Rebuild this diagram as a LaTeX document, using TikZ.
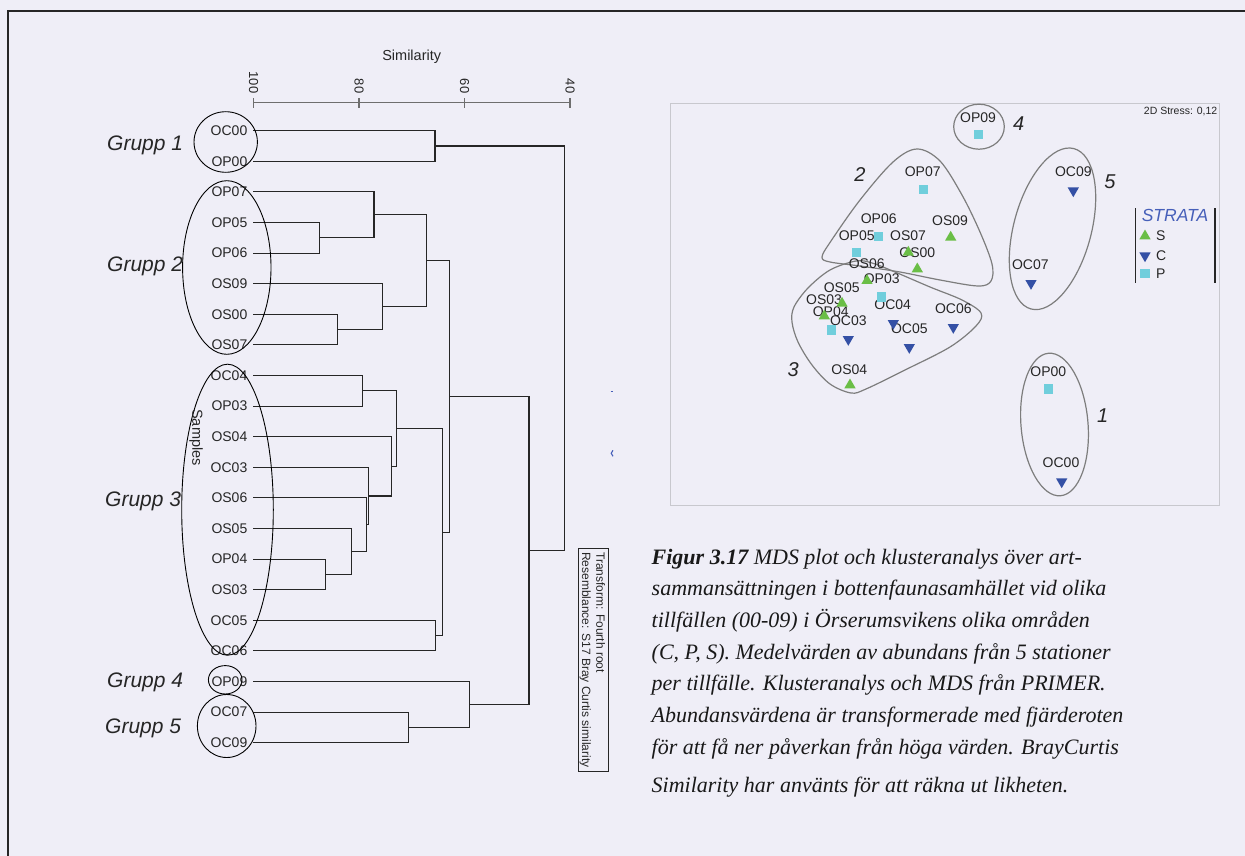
\documentclass[tikz,border=0pt]{standalone}
\usepackage{fontspec}
\setmainfont{Liberation Sans}
\newfontfamily\capfont{Liberation Serif}
\usetikzlibrary{shapes.geometric}
\definecolor{bgc}{RGB}{239,238,247}
\definecolor{sgreen}{RGB}{106,190,70}
\definecolor{cblue}{RGB}{52,80,165}
\definecolor{pcyan}{RGB}{112,206,220}
\definecolor{stratablue}{RGB}{70,95,185}
\definecolor{framegray}{RGB}{200,200,206}
\definecolor{outlinegray}{RGB}{125,125,125}
\definecolor{axisgray}{RGB}{110,110,110}
\newcommand{\fsz}[1]{\fontsize{#1}{#1}\selectfont}
\newcommand{\dendjoin}[5]{\draw[dend] (#1,#2) -| (#5,#4) -- (#3,#4);}
\begin{document}
\begin{tikzpicture}[x=1pt,y=-1pt,
  leaf/.style={anchor=east, inner sep=0pt, font=\fsz{14}, text=black!85},
  grupp/.style={anchor=base west, inner sep=0pt, font=\fsz{21}\itshape, text=black!85},
  dend/.style={line width=1.1pt, black!85},
  ell/.style={line width=0.9pt, black},
  mds/.style={inner sep=0pt, font=\fsz{14}, text=black!85},
  gnum/.style={inner sep=0pt, font=\fsz{20}\itshape, text=black!85},
  grp/.style={line width=1.2pt, outlinegray},
  sqP/.style={rectangle, fill=pcyan, minimum size=9.5pt, inner sep=0pt},
  triS/.style={regular polygon, regular polygon sides=3, fill=sgreen, minimum size=13pt, inner sep=0pt},
  triC/.style={regular polygon, regular polygon sides=3, shape border rotate=180, fill=cblue, minimum size=13pt, inner sep=0pt},
  capline/.style={anchor=base west, inner sep=0pt, font=\capfont\fsz{22}\itshape, text=black!90},
  vtext/.style={rotate=-90, inner sep=0pt, text=black!85}
]
\useasboundingbox (0,0) rectangle (1245,856);
\fill[bgc] (0,0) rectangle (1245,856);
\draw[line width=2pt, black!85] (8,856) -- (8,11) -- (1245,11);

% ---------------- Dendrogram ----------------
\node[inner sep=0pt, font=\fsz{14.5}, text=black!85] (simlab) at (411.7,56.7) {Similarity};
\draw[line width=1.3pt, axisgray] (253.5,102.3) -- (570,102.3);
\foreach \xx in {253.5,359,464.5,570} \draw[line width=1.3pt, axisgray] (\xx,98.3) -- (\xx,108.3);
\node[vtext, anchor=east, font=\fsz{13}] (t100) at (253.5,93.5) {100};
\node[vtext, anchor=east, font=\fsz{13}] (t80) at (359,93.5) {80};
\node[vtext, anchor=east, font=\fsz{13}] (t60) at (464.5,93.5) {60};
\node[vtext, anchor=east, font=\fsz{13}] (t40) at (570,93.5) {40};

\node[leaf] (lOC00) at (247.5,130.7) {OC00};
\node[leaf] (lOP00) at (247.5,161.3) {OP00};
\node[leaf] (lOP07) at (247.5,191.9) {OP07};
\node[leaf] (lOP05) at (247.5,222.5) {OP05};
\node[leaf] (lOP06) at (247.5,253.1) {OP06};
\node[leaf] (lOS09) at (247.5,283.7) {OS09};
\node[leaf] (lOS00) at (247.5,314.3) {OS00};
\node[leaf] (lOS07) at (247.5,344.9) {OS07};
\node[leaf] (lOC04) at (247.5,375.5) {OC04};
\node[leaf] (lOP03) at (247.5,406.1) {OP03};
\node[leaf] (lOS04) at (247.5,436.7) {OS04};
\node[leaf] (lOC03) at (247.5,467.3) {OC03};
\node[leaf] (lOS06) at (247.5,497.9) {OS06};
\node[leaf] (lOS05) at (247.5,528.5) {OS05};
\node[leaf] (lOP04) at (247.5,559.1) {OP04};
\node[leaf] (lOS03) at (247.5,589.7) {OS03};
\node[leaf] (lOC05) at (247.5,620.3) {OC05};
\node[leaf] (lOC06) at (247.5,650.9) {OC06};
\node[leaf] (lOP09) at (247.5,681.5) {OP09};
\node[leaf] (lOC07) at (247.5,712.1) {OC07};
\node[leaf] (lOC09) at (247.5,742.7) {OC09};

\dendjoin{253}{130.7}{253}{161.3}{435}
\dendjoin{253}{222.5}{253}{253.1}{319.3}
\dendjoin{253}{191.9}{319.3}{237.8}{374}
\dendjoin{253}{314.3}{253}{344.9}{337.7}
\dendjoin{253}{283.7}{337.7}{329.6}{382.3}
\dendjoin{374}{214.85}{382.3}{306.65}{426.3}
\dendjoin{253}{375.5}{253}{406.1}{362.7}
\dendjoin{253}{559.1}{253}{589.7}{325.7}
\dendjoin{253}{528.5}{325.7}{574.4}{351.7}
\dendjoin{253}{497.9}{351.7}{551.45}{366.8}
\dendjoin{253}{467.3}{366.8}{524.68}{368.6}
\dendjoin{253}{436.7}{368.6}{495.99}{391.3}
\dendjoin{362.7}{390.8}{391.3}{466.35}{396.7}
\dendjoin{253}{620.3}{253}{650.9}{435.3}
\dendjoin{396.7}{428.58}{435.3}{635.6}{442.3}
\dendjoin{426.3}{260.75}{442.3}{532.09}{449.3}
\dendjoin{253}{712.1}{253}{742.7}{408.7}
\dendjoin{253}{681.5}{408.7}{727.4}{469.3}
\dendjoin{449.3}{396.42}{469.3}{704.45}{529}
\dendjoin{435}{146}{529}{550.4}{564.3}

\draw[ell] (225.7,142) ellipse [x radius=31.7pt, y radius=30.3pt];
\draw[ell] (226.8,267.5) ellipse [x radius=44.2pt, y radius=86.8pt];
\draw[ell] (227.5,509.7) ellipse [x radius=45.8pt, y radius=145.5pt];
\draw[ell] (225.2,679.8) ellipse [x radius=16.8pt, y radius=14.2pt];
\draw[ell] (226.7,726) ellipse [x radius=29.3pt, y radius=31.5pt];

\node[vtext, font=\fsz{14.5}] (samples) at (196,437.5) {Samples};

\node[grupp] (g1) at (107,151) {Grupp 1};
\node[grupp] (g2) at (107,271) {Grupp 2};
\node[grupp] (g3) at (105,506) {Grupp 3};
\node[grupp] (g4) at (107,687) {Grupp 4};
\node[grupp] (g5) at (105,733) {Grupp 5};

\draw[line width=1.2pt, black!85] (578.3,548.3) rectangle (608.3,771.5);
\node[vtext, anchor=west, font=\fsz{12}] (tr1) at (600.7,552) {Transform: Fourth root};
\node[vtext, anchor=west, font=\fsz{12}] (tr2) at (585.3,552) {Resemblance: S17 Bray Curtis similarity};

% stray marks
\draw[line width=1pt, stratablue] (610.5,391.7) -- (613,391.7);
\draw[line width=1.1pt, stratablue] (613,450.3) .. controls (610.6,451.5) and (610.6,455) .. (613,456.3);

% ---------------- MDS plot ----------------
\draw[line width=1.5pt, framegray] (670.7,103.3) rectangle (1219.3,505.7);
\node[anchor=east, inner sep=0pt, font=\fsz{10.5}, text=black!85] (stress) at (1217.5,111.7) {2D Stress: 0,12};

% group outlines
\draw[grp] (979,126.7) ellipse [x radius=25.3pt, y radius=22.5pt];
\draw[grp, rotate around={75:(1052.5,228.8)}] (1052.5,228.8) ellipse [x radius=83pt, y radius=38.8pt];
\draw[grp, rotate around={94.8:(1054.5,424.5)}] (1054.5,424.5) ellipse [x radius=71.5pt, y radius=33.5pt];
\draw[grp] plot[smooth cycle, tension=0.55] coordinates {(917,149) (940,161) (962,195) (980,232) (992,264) (991,281) (978,286) (940,280) (900,272) (860,266) (830,262) (822,257) (831,241) (860,200) (893,162)};
\draw[grp] plot[smooth cycle, tension=0.55] coordinates {(856,261) (830,270) (808,288) (794,307) (792,322) (798,342) (812,365) (830,384) (851,393) (866,389) (905,370) (950,347) (976,326) (981,313) (962,300) (930,287) (895,272) (872,263)};

\node[gnum] (n4) at (1018.7,123.3) {4};
\node[gnum] (n2) at (860,174.3) {2};
\node[gnum] (n5) at (1110,181.7) {5};
\node[gnum] (n3) at (793.3,369.3) {3};
\node[gnum] (n1) at (1102.7,416) {1};

% point labels
\node[mds] (tOP09) at (978,117.3) {OP09};
\node[mds] (tOP07) at (922.7,171.7) {OP07};
\node[mds] (tOC09) at (1073.3,171.7) {OC09};
\node[mds] (tOS09) at (950,220.7) {OS09};
\node[mds] (tOP06) at (878.7,219) {OP06};
\node[mds] (tOP05) at (856.7,235.7) {OP05};
\node[mds] (tOS07) at (908,235.7) {OS07};
\node[mds] (tOS00) at (917.3,253) {OS00};
\node[mds] (tOC07) at (1030.3,264.3) {OC07};
\node[mds] (tOS06) at (866.7,264) {OS06};
\node[mds] (tOP03) at (881.7,279) {OP03};
\node[mds] (tOS05) at (841.7,287.3) {OS05};
\node[mds] (tOS03) at (824,300) {OS03};
\node[mds] (tOP04) at (830.7,311.7) {OP04};
\node[mds] (tOC03) at (848.3,320.7) {OC03};
\node[mds] (tOC04) at (892.7,305) {OC04};
\node[mds] (tOC05) at (909.3,329) {OC05};
\node[mds] (tOC06) at (953.3,309) {OC06};
\node[mds] (tOS04) at (849.3,370) {OS04};
\node[mds] (tOP00) at (1048.3,371.7) {OP00};
\node[mds] (tOC00) at (1061,462.7) {OC00};

% markers
\node[sqP] (mOP09) at (978.3,134.3) {};
\node[sqP] (mOP07) at (923.3,189.7) {};
\node[triC] (mOC09) at (1073.3,190.7) {};
\node[triS] (mOS09) at (950.7,237.3) {};
\node[sqP] (mOP06) at (878.3,236.7) {};
\node[sqP] (mOP05) at (856.3,252.7) {};
\node[triS] (mOS07) at (908.3,252.3) {};
\node[triS] (mOS00) at (917.3,269) {};
\node[triC] (mOC07) at (1031,283.3) {};
\node[triS] (mOS06) at (867,280.7) {};
\node[sqP] (mOP03) at (881.3,297) {};
\node[triS] (mOS05) at (842,303.3) {};
\node[triS] (mOS03) at (824.3,316) {};
\node[sqP] (mOP04) at (831.3,330) {};
\node[triC] (mOC03) at (848.3,339.3) {};
\node[triC] (mOC04) at (893.3,323.3) {};
\node[triC] (mOC05) at (909.3,347.3) {};
\node[triC] (mOC06) at (953.3,327.3) {};
\node[triS] (mOS04) at (850,385) {};
\node[sqP] (mOP00) at (1048.3,389) {};
\node[triC] (mOC00) at (1061.7,481.7) {};

% legend
\draw[line width=1.3pt, black!85] (1135.7,208.3) -- (1135.7,282.7);
\draw[line width=1.3pt, black!85] (1215,208.3) -- (1215,282.7);
\node[inner sep=0pt, font=\fsz{17.5}\itshape, text=stratablue] (strata) at (1175,215.7) {STRATA};
\node[triS] (legS) at (1145,236) {};
\node[triC] (legC) at (1145,255.7) {};
\node[sqP] (legP) at (1145,273.3) {};
\node[mds, anchor=west] (legSt) at (1156,236) {S};
\node[mds, anchor=west] (legCt) at (1156,255.7) {C};
\node[mds, anchor=west] (legPt) at (1156,273.3) {P};

% ---------------- Caption ----------------
\node[capline] (cap1) at (651.5,564) {\textbf{Figur 3.17} MDS plot och klusteranalys över art-};
\node[capline] (cap2) at (651.5,595.7) {sammansättningen i bottenfaunasamhället vid olika};
\node[capline] (cap3) at (651.5,627.4) {tillfällen (00-09) i Örserumsvikens olika områden};
\node[capline] (cap4) at (651.5,659.1) {(C, P, S). Medelvärden av abundans från 5 stationer};
\node[capline] (cap5) at (651.5,690.8) {per tillfälle. Klusteranalys och MDS från PRIMER.};
\node[capline] (cap6) at (651.5,722.5) {Abundansvärdena är transformerade med fjärderoten};
\node[capline] (cap7) at (651.5,754.2) {för att få ner påverkan från höga värden. BrayCurtis};
\node[capline] (cap8) at (651.5,792.8) {Similarity har använts för att räkna ut likheten.};
\end{tikzpicture}
\end{document}
